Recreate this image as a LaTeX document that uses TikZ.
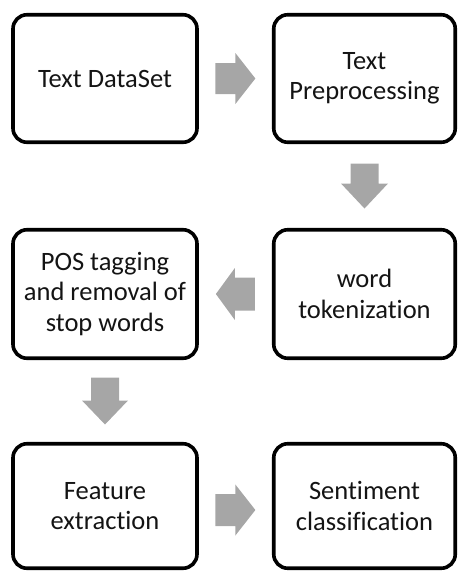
\documentclass[tikz,border=0pt]{standalone}
\usepackage{fontspec}
\setmainfont{Carlito}[Ligatures={NoCommon,NoContextual}]
\usetikzlibrary{calc}
\definecolor{arrowgray}{RGB}{166,166,166}
\definecolor{textblack}{RGB}{20,20,20}
\tikzset{
  stepbox/.style={draw=black, line width=3.6pt, rounded corners=14pt, fill=white,
    minimum width=184pt, align=center, text=textblack,
    font=\fontsize{26.5}{30.5}\selectfont, inner sep=0pt},
  blockarrow/.style={fill=arrowgray, draw=none}
}
% #1 centre, #2 angle, #3 shaft length, #4 head length, #5 shaft half width, #6 head half width
\newcommand\blockarrowdraw[6]{%
  \fill[blockarrow, shift={#1}, rotate=#2]
    ({-(#3+#4)/2},{-#5}) -- ({(#3-#4)/2},{-#5}) -- ({(#3-#4)/2},{-#6})
    -- ({(#3+#4)/2},0) -- ({(#3-#4)/2},{#6}) -- ({(#3-#4)/2},{#5})
    -- ({-(#3+#4)/2},{#5}) -- cycle;}
\begin{document}
\begin{tikzpicture}[x=1pt,y=-1pt]
\useasboundingbox (0,0) rectangle (458,571);
\node[stepbox, minimum height=127.5pt] (ds) at (105,78.5) {Text DataSet};
\node[stepbox, minimum width=181.5pt, minimum height=127.5pt] (pre) at (364.5,78.5) {Text\\Preprocessing};
\node[stepbox, minimum width=181.5pt, minimum height=128.5pt] (tok) at (364.5,294) {word\\tokenization};
\node[stepbox, minimum height=128.5pt] (pos) at (105,294) {POS tagging\\and removal of\\stop words};
\node[stepbox, minimum height=124.5pt] (feat) at (105,506) {Feature\\extraction};
\node[stepbox, minimum width=181.5pt, minimum height=124.5pt] (sent) at (364.5,506) {Sentiment\\classification};
% block arrow connectors
\coordinate (a1) at ($(ds.east)!0.5!(pre.west)$);
\blockarrowdraw{(a1)}{0}{20}{20}{15.5}{25.5}
\coordinate (a2) at ($(pre.south)!0.5!(tok.north)$);
\blockarrowdraw{(a2)}{-90}{20}{25}{14}{23.5}
\coordinate (a3) at ($(tok.west)!0.5!(pos.east)$);
\blockarrowdraw{(a3)}{180}{20}{19}{16.5}{26}
\coordinate (a4) at ($(pos.south)!0.5!(feat.north)$);
\blockarrowdraw{(a4)}{-90}{23}{24}{14}{23}
\coordinate (a5) at ($(feat.east)!0.5!(sent.west)+(0,4)$);
\blockarrowdraw{(a5)}{0}{20}{20}{16}{25.5}
\end{tikzpicture}
\end{document}
